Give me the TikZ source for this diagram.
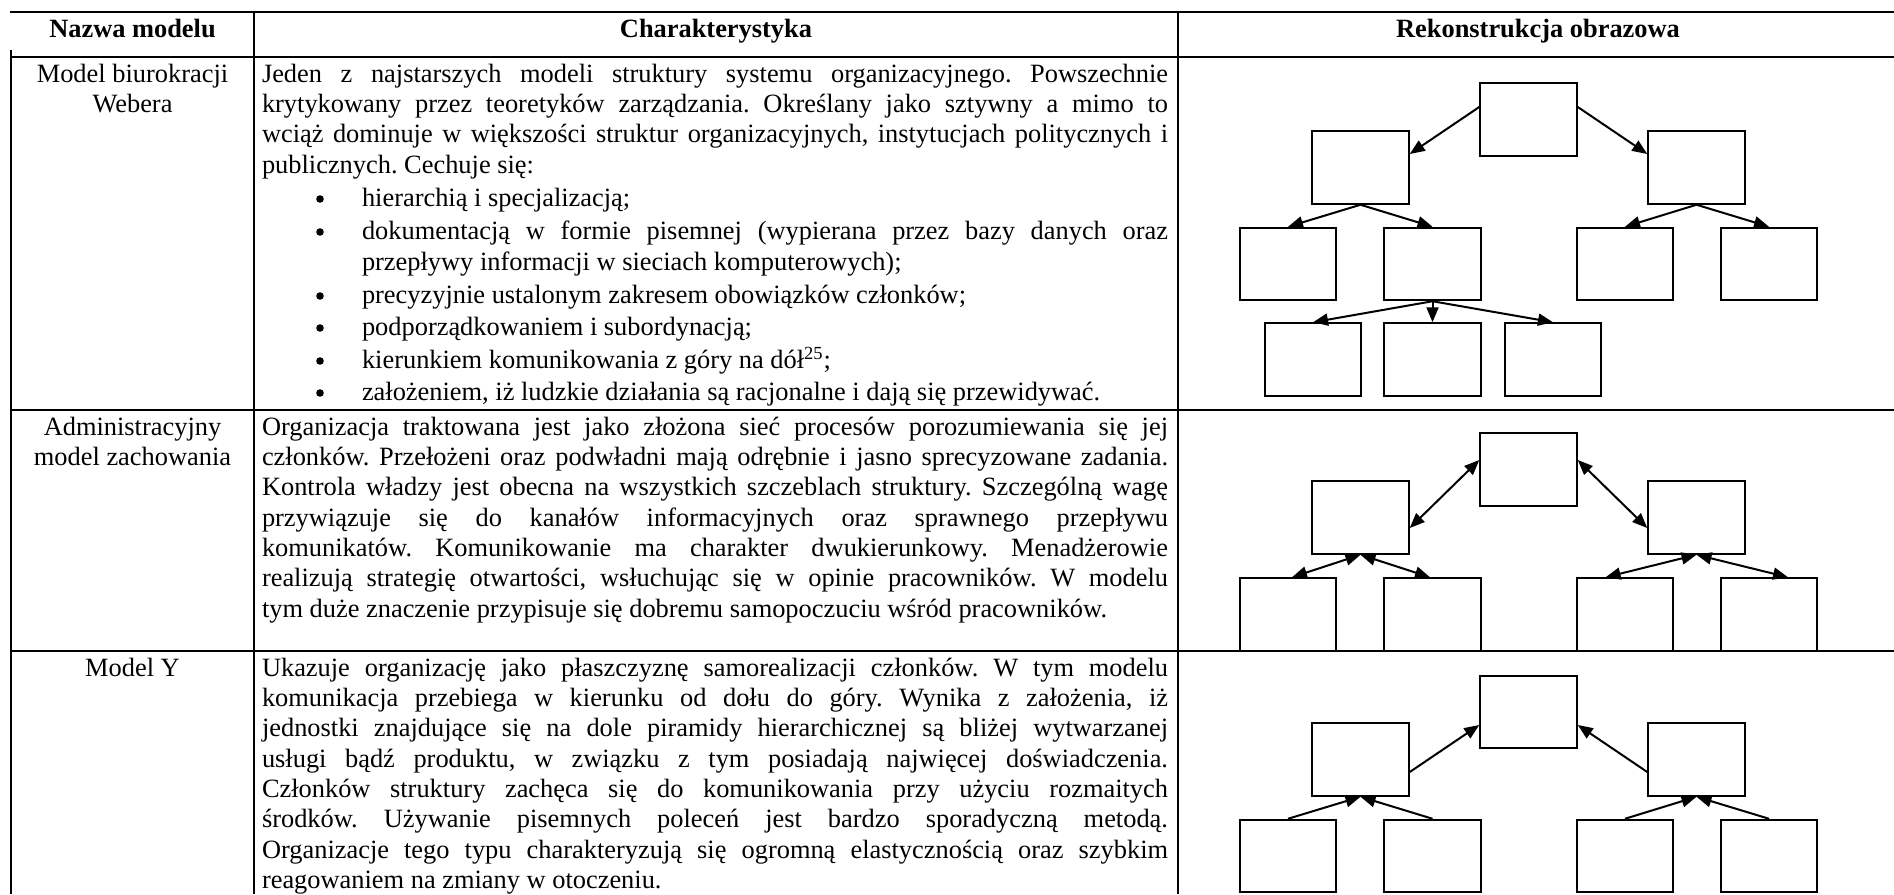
\documentclass[tikz,border=0pt]{standalone}
\usepackage{fontspec}
\setmainfont{Liberation Serif}
\usetikzlibrary{arrows.meta}
\frenchspacing
% widths of justified lines in the description column
\newlength\cellw \setlength\cellw{453pt}
\newlength\itemw \setlength\itemw{403pt}
\newcommand\jfull[1]{\makebox[\cellw][s]{#1}}
\newcommand\jitem[1]{\makebox[\itemw][s]{#1}}
\begin{document}
\begin{tikzpicture}[x=0.5pt,y=-0.5pt,
  txt/.style={inner sep=0pt, outer sep=0pt, anchor=base west,
    font=\fontsize{13.2pt}{15.2pt}\selectfont},
  ctr/.style={txt, anchor=base},
  head/.style={ctr, font=\fontsize{13.2pt}{15.2pt}\selectfont\bfseries},
  listdot/.style={circle, fill, inner sep=0pt, minimum size=3.8pt},
  rule/.style={line width=1.2pt},
  orgbox/.style={draw, line width=1pt, minimum width=48.25pt,
    minimum height=36.25pt, inner sep=0pt},
  down/.style={line width=1pt, -{Triangle[length=7.5pt,width=6pt]}},
  both/.style={line width=1pt,
    {Triangle[length=7.5pt,width=6pt]}-{Triangle[length=7.5pt,width=6pt]}},
]
\useasboundingbox (0,0) rectangle (1894,894);
\clip (0,0) rectangle (1894,894);

% table grid
\draw[rule] (10,12) -- (1894,12);
\draw[rule] (11,57) -- (1894,57);
\draw[rule] (11,410) -- (1894,410);
\draw[rule] (11,651) -- (1894,651);
\draw[rule] (11,50) -- (11,894);
\draw[rule] (254,12) -- (254,894);
\draw[rule] (1178,12) -- (1178,894);

% header
\node[head] (h1) at (132.5,37) {Nazwa modelu};
\node[head] (h2) at (716,37) {Charakterystyka};
\node[head] (h3) at (1538,37) {Rekonstrukcja obrazowa};

% model names
\node[ctr] (m1a) at (132.5,82) {Model biurokracji};
\node[ctr] (m1b) at (132.5,112.4) {Webera};
\node[ctr] (m2a) at (132.5,435) {Administracyjny};
\node[ctr] (m2b) at (132.5,465.4) {model zachowania};
\node[ctr] (m3a) at (132.5,676) {Model Y};

% row 1 description
\foreach \t [count=\i from 0] in {%
  {Jeden z najstarszych modeli struktury systemu organizacyjnego. Powszechnie},
  {krytykowany przez teoretyków zarządzania. Określany jako sztywny a mimo to},
  {wciąż dominuje w większości struktur organizacyjnych, instytucjach politycznych i}}
  \node[txt] (wa\i) at (262,{82+30.36*\i}) {\jfull{\t}};
\node[txt] (wa3) at (262,173.1) {publicznych. Cechuje się:};

% bullet list
\foreach \y [count=\i] in {206,239,303,335,368,400}
  \node[listdot] (dot\i) at (320,\y-7) {};
\node[txt] (it1) at (362,206) {hierarchią i specjalizacją;};
\node[txt] (it2) at (362,239) {\jitem{dokumentacją w formie pisemnej (wypierana przez bazy danych oraz}};
\node[txt] (it2b) at (362,270) {przepływy informacji w sieciach komputerowych);};
\node[txt] (it3) at (362,303) {precyzyjnie ustalonym zakresem obowiązków członków;};
\node[txt] (it4) at (362,335) {podporządkowaniem i subordynacją;};
\node[txt] (it5) at (362,368) {kierunkiem komunikowania z góry na dół\textsuperscript{25};};
\node[txt] (it6) at (362,400) {założeniem, iż ludzkie działania są racjonalne i dają się przewidywać.};

% row 2 description
\foreach \t [count=\i from 0] in {%
  {Organizacja traktowana jest jako złożona sieć procesów porozumiewania się jej},
  {członków. Przełożeni oraz podwładni mają odrębnie i jasno sprecyzowane zadania.},
  {Kontrola władzy jest obecna na wszystkich szczeblach struktury. Szczególną wagę},
  {przywiązuje się do kanałów informacyjnych oraz sprawnego przepływu},
  {komunikatów. Komunikowanie ma charakter dwukierunkowy. Menadżerowie},
  {realizują strategię otwartości, wsłuchując się w opinie pracowników. W modelu}}
  \node[txt] (wb\i) at (262,{435+30.36*\i}) {\jfull{\t}};
\node[txt] (wb6) at (262,617.2) {tym duże znaczenie przypisuje się dobremu samopoczuciu wśród pracowników.};

% row 3 description
\foreach \t [count=\i from 0] in {%
  {Ukazuje organizację jako płaszczyznę samorealizacji członków. W tym modelu},
  {komunikacja przebiega w kierunku od dołu do góry. Wynika z założenia, iż},
  {jednostki znajdujące się na dole piramidy hierarchicznej są bliżej wytwarzanej},
  {usługi bądź produktu, w związku z tym posiadają najwięcej doświadczenia.},
  {Członków struktury zachęca się do komunikowania przy użyciu rozmaitych},
  {środków. Używanie pisemnych poleceń jest bardzo sporadyczną metodą.},
  {Organizacje tego typu charakteryzują się ogromną elastycznością oraz szybkim}}
  \node[txt] (wc\i) at (262,{676+30.36*\i}) {\jfull{\t}};
\node[txt] (wc7) at (262,888.5) {reagowaniem na zmiany w otoczeniu.};

% row 1 chart: one-way, top-down
\node[orgbox] (t1) at (1528.5,119.5) {};
\node[orgbox] (a1) at (1360.5,167.5) {};
\node[orgbox] (b1) at (1696.5,167.5) {};
\node[orgbox] (c1) at (1288,264) {};
\node[orgbox] (d1) at (1432.5,264) {};
\node[orgbox] (e1) at (1625,264) {};
\node[orgbox] (f1) at (1769,264) {};
\node[orgbox] (g1) at (1313,359.5) {};
\node[orgbox] (k1) at (1432.5,359.5) {};
\node[orgbox] (l1) at (1553,359.5) {};
\draw[down] ([yshift=6.25pt]t1.west) -- ([yshift=6.75pt]a1.east);
\draw[down] ([yshift=6.25pt]t1.east) -- ([yshift=6.75pt]b1.west);
\draw[down] (a1.south) -- (c1.north);
\draw[down] (a1.south) -- (d1.north);
\draw[down] (b1.south) -- (e1.north);
\draw[down] (b1.south) -- (f1.north);
\draw[down] (d1.south) -- (g1.north);
\draw[down] (d1.south) -- (k1.north);
\draw[down] (d1.south) -- (l1.north);

% row 2 chart: two-way
\node[orgbox] (t2) at (1528.5,469.5) {};
\node[orgbox] (a2) at (1360.5,517.5) {};
\node[orgbox] (b2) at (1696.5,517.5) {};
\node[orgbox] (c2) at (1288,614.5) {};
\node[orgbox] (d2) at (1432.5,614.5) {};
\node[orgbox] (e2) at (1625,614.5) {};
\node[orgbox] (f2) at (1769,614.5) {};
\draw[both] ([yshift=-5.25pt]a2.east) -- ([yshift=4.75pt]t2.west);
\draw[both] ([yshift=4.75pt]t2.east) -- ([yshift=-5.25pt]b2.west);
\draw[both] (a2.south) -- ([xshift=2pt]c2.north);
\draw[both] (a2.south) -- ([xshift=-1.25pt]d2.north);
\draw[both] (b2.south) -- ([xshift=-9.7pt]e2.north);
\draw[both] (b2.south) -- ([xshift=9.5pt]f2.north);

% row 3 chart: bottom-up
\node[orgbox] (t3) at (1528.5,712) {};
\node[orgbox] (a3) at (1360.5,759.5) {};
\node[orgbox] (b3) at (1696.5,759.5) {};
\node[orgbox] (c3) at (1288,856) {};
\node[orgbox] (d3) at (1432.5,856) {};
\node[orgbox] (e3) at (1625,856) {};
\node[orgbox] (f3) at (1769,856) {};
\draw[down] ([yshift=-6.25pt]a3.east) -- ([yshift=-6.5pt]t3.west);
\draw[down] ([yshift=-6.25pt]b3.west) -- ([yshift=-6.5pt]t3.east);
\draw[down] (c3.north) -- (a3.south);
\draw[down] (d3.north) -- (a3.south);
\draw[down] (e3.north) -- (b3.south);
\draw[down] (f3.north) -- (b3.south);
\end{tikzpicture}
\end{document}
